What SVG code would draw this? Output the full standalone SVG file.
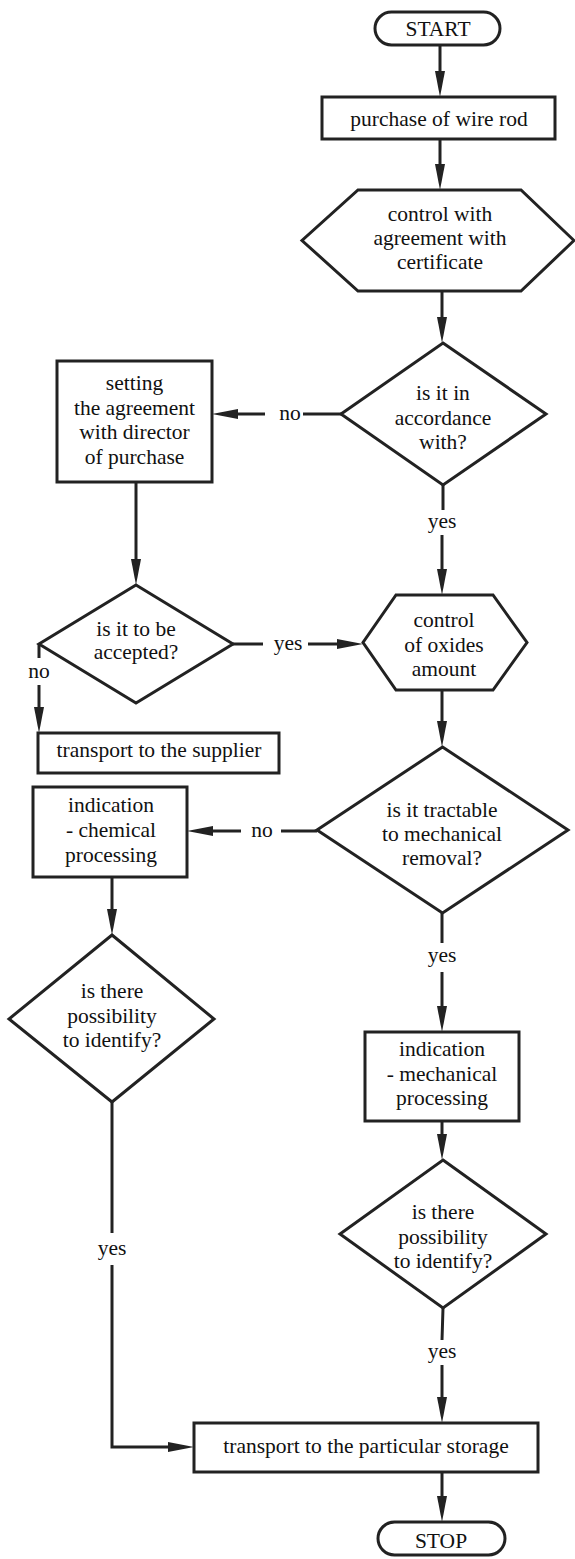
<svg xmlns="http://www.w3.org/2000/svg" width="575" height="1559" viewBox="0 0 575 1559">
<style>
.s{fill:#fff;stroke:#222;stroke-width:3}
.c{fill:none;stroke:#222;stroke-width:3}
.a{fill:none;stroke:#222;stroke-width:3;marker-end:url(#ah)}
text{font-family:"Liberation Serif","Times New Roman",serif;font-size:21.5px;fill:#111;text-anchor:middle}
</style>
<defs>
<marker id="ah" markerWidth="26" markerHeight="10" refX="16" refY="5" orient="auto" markerUnits="userSpaceOnUse">
<path d="M0,0 L26,5 L0,10 z" fill="#222"/>
</marker>
</defs>
<rect width="575" height="1559" fill="#fff"/>
<g id="connectors">
<path class="a" d="M440,45 V87"/>
<path class="a" d="M440,139 V180"/>
<path class="a" d="M442,291 V333"/>
<path class="c" d="M341,414 H303"/>
<text x="290" y="420">no</text>
<path class="a" d="M265,414 H222"/>
<path class="c" d="M443,485 V510"/>
<text x="442" y="528">yes</text>
<path class="a" d="M442,535 V585"/>
<path class="a" d="M136,482 V575"/>
<path class="c" d="M233,644 H263"/>
<text x="288" y="650">yes</text>
<path class="a" d="M308,644 H353"/>
<path class="c" d="M39,644 V658"/>
<text x="39" y="678">no</text>
<path class="a" d="M39,685 V723"/>
<path class="a" d="M442,690 V737"/>
<path class="c" d="M317,831 H281"/>
<text x="262" y="837">no</text>
<path class="a" d="M241,831 H197"/>
<path class="c" d="M442,913 V943"/>
<text x="442" y="962">yes</text>
<path class="a" d="M442,972 V1022"/>
<path class="a" d="M112,877 V925"/>
<path class="a" d="M442,1121 V1150"/>
<path class="c" d="M112,1102 V1233"/>
<text x="112" y="1255">yes</text>
<path class="a" d="M112,1265 V1447 H184"/>
<path class="c" d="M443,1308 L442,1340"/>
<text x="442" y="1358">yes</text>
<path class="a" d="M442,1365 V1413"/>
<path class="a" d="M442,1472 V1512"/>
</g>
<g id="start">
<rect class="s" x="375" y="12" width="125" height="33" rx="16.5"/>
<text x="438" y="36">START</text>
</g>
<g id="purchase">
<rect class="s" x="322" y="97" width="233" height="42"/>
<text x="439" y="126">purchase of wire rod</text>
</g>
<g id="control-certificate">
<polygon class="s" points="358,190 521,190 574,240.5 521,291 358,291 302,240.5"/>
<text x="440" y="221">control with</text>
<text x="440" y="245">agreement with</text>
<text x="440" y="269">certificate</text>
</g>
<g id="accordance">
<polygon class="s" points="443,343 546,414 443,485 341,414"/>
<text x="443" y="400">is it in</text>
<text x="443" y="425">accordance</text>
<text x="443" y="449">with?</text>
</g>
<g id="setting">
<rect class="s" x="57" y="361" width="155" height="121"/>
<text x="134.5" y="390">setting</text>
<text x="134.5" y="414.5">the agreement</text>
<text x="134.5" y="439">with director</text>
<text x="134.5" y="463.5">of purchase</text>
</g>
<g id="accepted">
<polygon class="s" points="136,585 233,644 136,703 39,644"/>
<text x="136" y="636">is it to be</text>
<text x="136" y="659">accepted?</text>
</g>
<g id="supplier">
<rect class="s" x="38" y="733" width="241" height="40"/>
<text x="159" y="757">transport to the supplier</text>
</g>
<g id="control-oxides">
<polygon class="s" points="396,595 493,595 527,642.5 493,690 396,690 363,642.5"/>
<text x="444" y="627">control</text>
<text x="444" y="652">of oxides</text>
<text x="444" y="676">amount</text>
</g>
<g id="tractable">
<polygon class="s" points="442.5,747 568,830 442.5,913 317,830"/>
<text x="442" y="817">is it tractable</text>
<text x="442" y="841">to mechanical</text>
<text x="442" y="865">removal?</text>
</g>
<g id="chemical">
<rect class="s" x="33" y="787" width="154" height="90"/>
<text x="111" y="812">indication</text>
<text x="111" y="837">- chemical</text>
<text x="111" y="862">processing</text>
</g>
<g id="identify-chemical">
<polygon class="s" points="112,935 214,1019 112,1102 9,1019"/>
<text x="112" y="998">is there</text>
<text x="112" y="1023">possibility</text>
<text x="112" y="1047">to identify?</text>
</g>
<g id="mechanical">
<rect class="s" x="365" y="1032" width="154" height="89"/>
<text x="442" y="1056">indication</text>
<text x="442" y="1081">- mechanical</text>
<text x="442" y="1105">processing</text>
</g>
<g id="identify-mechanical">
<polygon class="s" points="443,1160 546,1234 443,1308 340,1234"/>
<text x="443" y="1219">is there</text>
<text x="443" y="1244">possibility</text>
<text x="443" y="1268">to identify?</text>
</g>
<g id="storage">
<rect class="s" x="194" y="1423" width="344" height="49"/>
<text x="366" y="1453">transport to the particular storage</text>
</g>
<g id="stop">
<rect class="s" x="378" y="1522" width="127" height="33" rx="16.5"/>
<text x="441" y="1548">STOP</text>
</g>
</svg>
